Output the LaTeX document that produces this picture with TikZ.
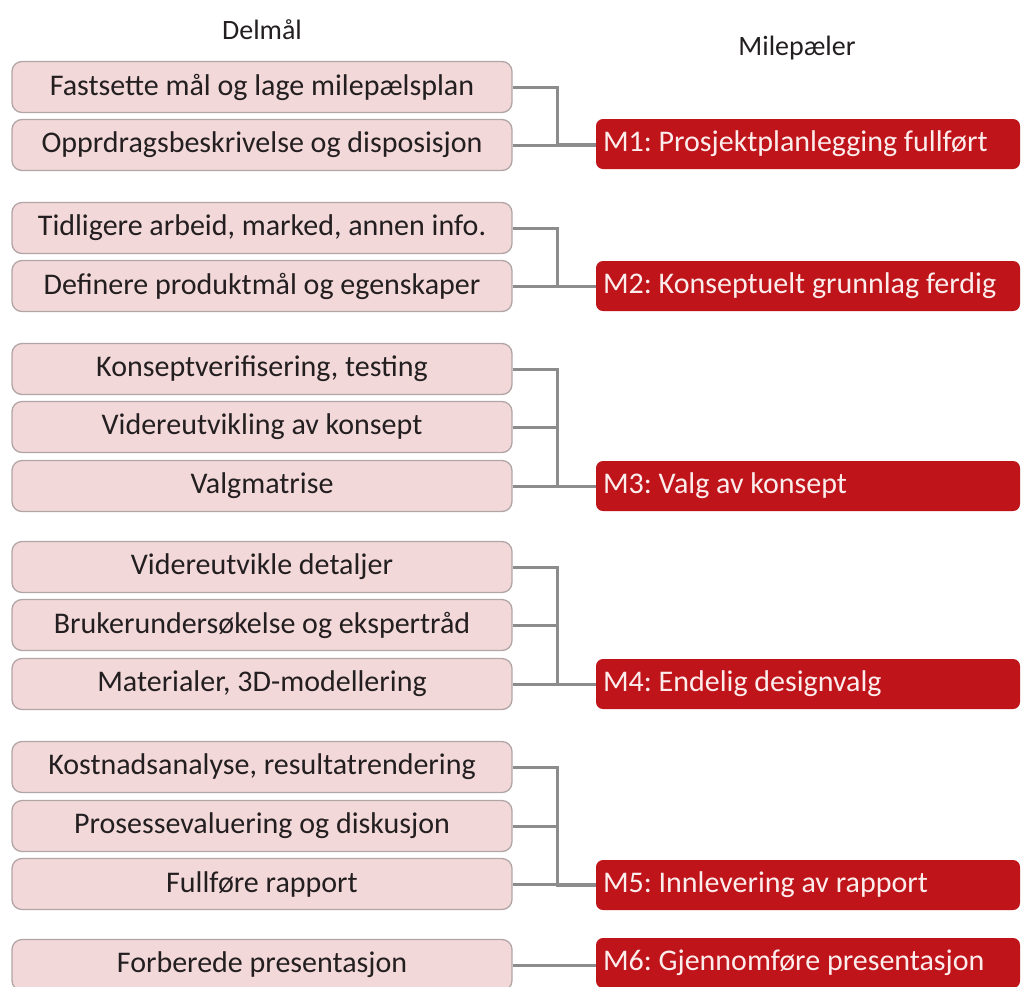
\documentclass[tikz,border=0pt]{standalone}
\usepackage{fontspec}
\setmainfont{Carlito}
\definecolor{pinkfill}{RGB}{243,216,217}
\definecolor{pinkdraw}{RGB}{178,165,166}
\definecolor{redfill}{RGB}{190,20,26}
\definecolor{redtext}{RGB}{252,236,236}
\definecolor{conngray}{RGB}{140,140,140}
\definecolor{textdark}{RGB}{35,31,32}
\newcommand{\mtxt}[1]{\makebox[410pt][l]{#1}}
\tikzset{
  goalbox/.style={draw=pinkdraw, line width=1.3pt, fill=pinkfill, rounded corners=10pt,
    minimum width=500pt, minimum height=51pt, inner sep=0pt, text=textdark,
    font=\fontsize{30}{33}\selectfont\frenchspacing},
  milebox/.style={fill=redfill, rounded corners=7pt, minimum height=50pt,
    minimum width=424pt, inner xsep=7pt, inner ysep=0pt, text=redtext,
    font=\fontsize{30}{33}\selectfont\frenchspacing},
  header/.style={text=textdark, font=\fontsize{28}{31}\selectfont},
  conn/.style={draw=conngray, line width=3pt}
}
\begin{document}
\begin{tikzpicture}[x=1pt,y=-1pt]
\clip (0,0) rectangle (1022,986);
\fill[white] (0,0) rectangle (1022,986);

\node[header] (h1) at (262,30) {Delmål};
\node[header] (h2) at (797,48) {Milepæler};

% group 1
\node[goalbox] (a1) at (262,87) {Fastsette mål og lage milepælsplan};
\node[goalbox] (a2) at (262,145) {Opprdragsbeskrivelse og disposisjon};
\node[milebox] (m1) at (808,144) {\mtxt{M1: Prosjektplanlegging fullført}};
% group 2
\node[goalbox] (b1) at (262,228) {Tidligere arbeid, marked, annen info.};
\node[goalbox] (b2) at (262,286) {Definere produktmål og egenskaper};
\node[milebox] (m2) at (808,286) {\mtxt{M2: Konseptuelt grunnlag ferdig}};
% group 3
\node[goalbox] (c1) at (262,369) {Konseptverifisering, testing};
\node[goalbox] (c2) at (262,427) {Videreutvikling av konsept};
\node[goalbox] (c3) at (262,486) {Valgmatrise};
\node[milebox] (m3) at (808,486) {\mtxt{M3: Valg av konsept}};
% group 4
\node[goalbox] (d1) at (262,567) {Videreutvikle detaljer};
\node[goalbox] (d2) at (262,625) {Brukerundersøkelse og ekspertråd};
\node[goalbox] (d3) at (262,684) {Materialer, 3D-modellering};
\node[milebox] (m4) at (808,684) {\mtxt{M4: Endelig designvalg}};
% group 5
\node[goalbox] (e1) at (262,767) {Kostnadsanalyse, resultatrendering};
\node[goalbox] (e2) at (262,826) {Prosessevaluering og diskusjon};
\node[goalbox] (e3) at (262,884) {Fullføre rapport};
\node[milebox] (m5) at (808,885) {\mtxt{M5: Innlevering av rapport}};
% group 6
\node[goalbox] (f1) at (262,965) {Forberede presentasjon};
\node[milebox] (m6) at (808,963) {\mtxt{M6: Gjennomføre presentasjon}};

% connectors
\draw[conn] (a1.east) -- ++(45,0) |- (m1.west);
\draw[conn] (a2.east) -- (a2.east -| m1.west);

\draw[conn] (b1.east) -- ++(45,0) |- (m2.west);
\draw[conn] (b2.east) -- (b2.east -| m2.west);

\draw[conn] (c1.east) -- ++(45,0) |- (m3.west);
\draw[conn] (c2.east) -- ++(45,0);
\draw[conn] (c3.east) -- (c3.east -| m3.west);

\draw[conn] (d1.east) -- ++(45,0) |- (m4.west);
\draw[conn] (d2.east) -- ++(45,0);
\draw[conn] (d3.east) -- (d3.east -| m4.west);

\draw[conn] (e1.east) -- ++(45,0) |- (m5.west);
\draw[conn] (e2.east) -- ++(45,0);
\draw[conn] (e3.east) -- (e3.east -| m5.west);

\draw[conn] (f1.east) -- (f1.east -| m6.west);
\end{tikzpicture}
\end{document}
